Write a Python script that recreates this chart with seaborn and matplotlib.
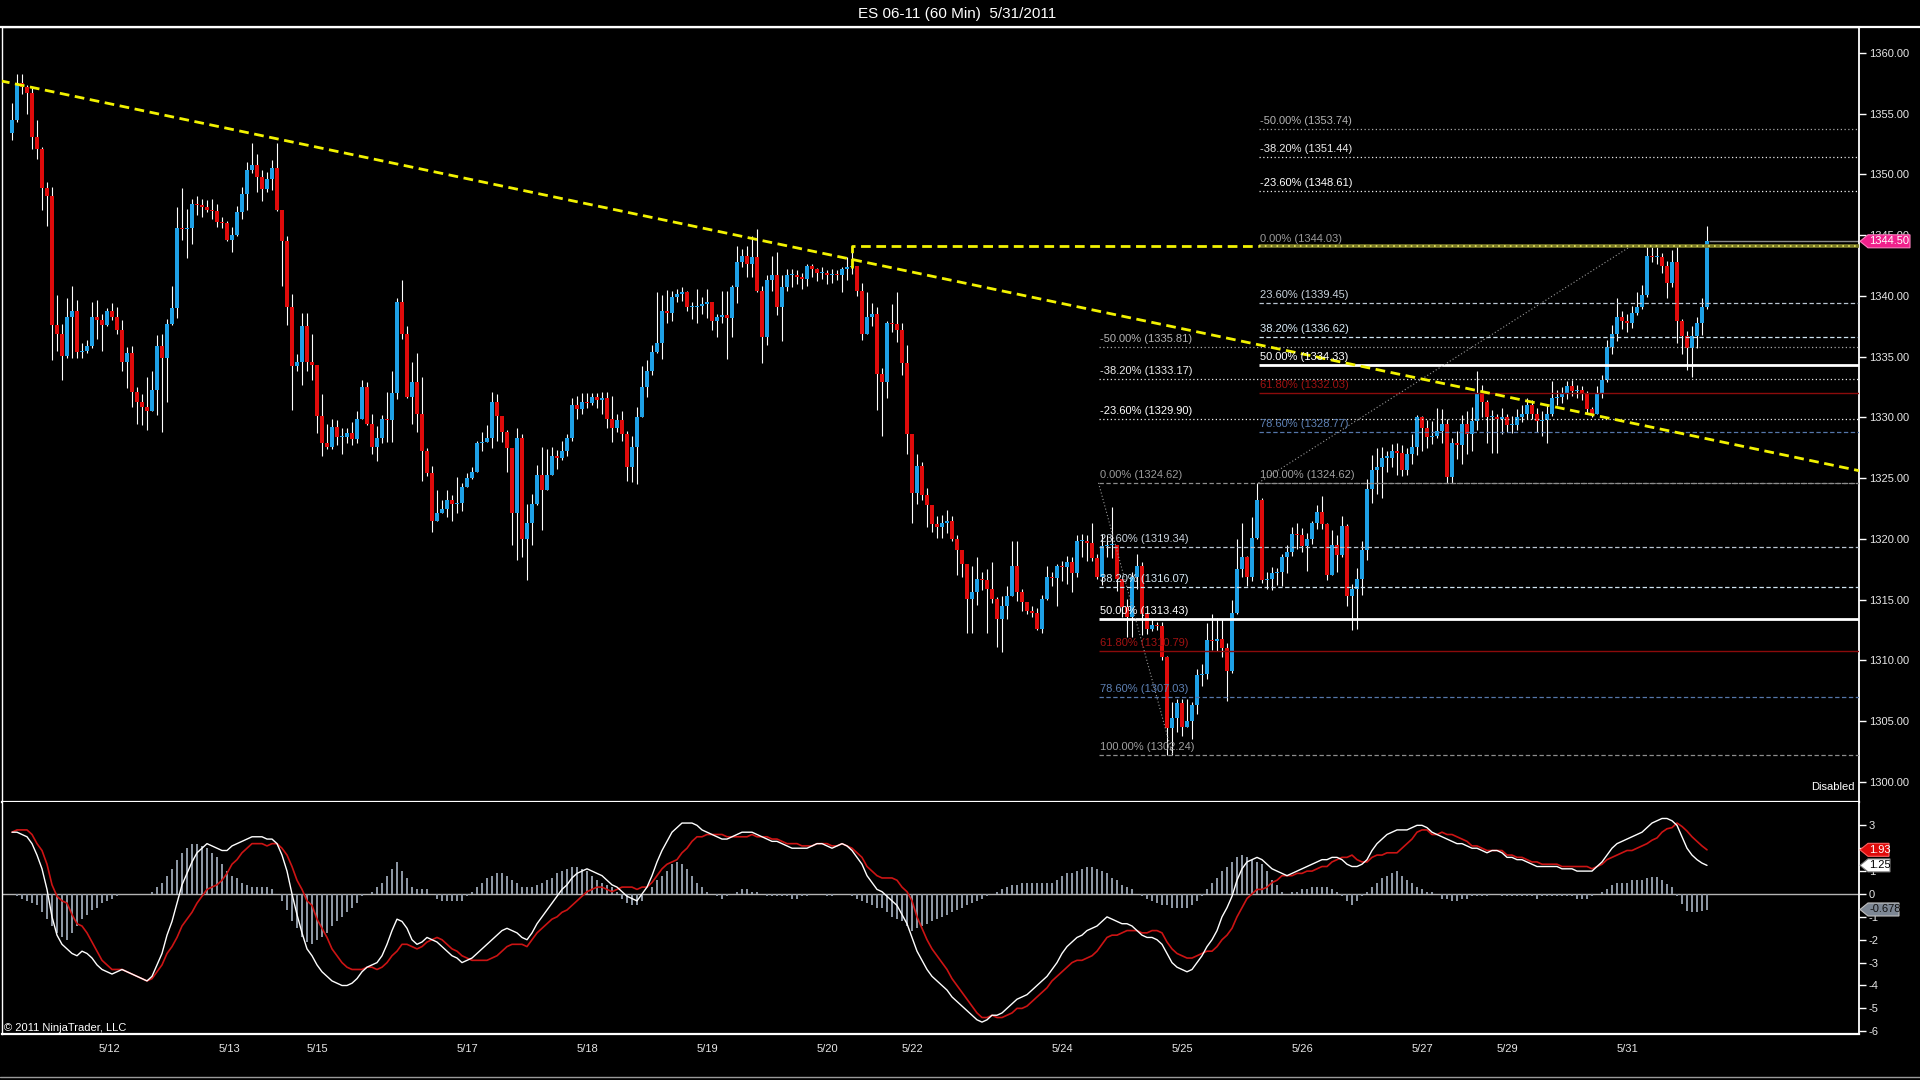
import matplotlib
matplotlib.use("Agg")
import matplotlib.pyplot as plt
import matplotlib.transforms as mtransforms
from matplotlib.lines import Line2D
from matplotlib.patches import Polygon
import numpy as np
import seaborn as sns

# ---- hourly ES 06-11 bars (bar index 0 .. 339) ----
first_open = 1353.4
closes = [
    1354.5, 1357.5, 1357.2, 1356.7, 1353.1, 1352.1, 1348.9, 1348.2, 1337.6, 1336.9,
    1335.1, 1338.3, 1338.8, 1335.4, 1335.5, 1335.9, 1338.3, 1338.0, 1337.6, 1338.8,
    1338.3, 1337.2, 1334.6, 1335.3, 1332.1, 1331.3, 1330.9, 1330.5, 1332.3, 1335.9,
    1334.9, 1337.7, 1339.0, 1345.6, 1345.5, 1345.6, 1347.6, 1347.5, 1347.3, 1347.1,
    1347.0, 1346.1, 1346.0, 1344.6, 1345.0, 1346.9, 1348.4, 1350.4, 1350.8, 1349.8,
    1348.8, 1349.6, 1350.5, 1347.1, 1344.5, 1339.1, 1334.2, 1334.6, 1337.5, 1334.6,
    1334.3, 1330.1, 1327.9, 1327.6, 1329.2, 1328.4, 1328.4, 1328.7, 1328.2, 1329.9,
    1332.5, 1329.5, 1327.6, 1328.3, 1329.9, 1329.8, 1332.0, 1339.5, 1336.9, 1331.7,
    1332.9, 1330.3, 1327.2, 1325.4, 1321.5, 1322.1, 1322.5, 1323.2, 1322.9, 1323.0,
    1324.3, 1325.0, 1325.5, 1327.9, 1328.0, 1328.3, 1331.3, 1330.1, 1328.8, 1327.5,
    1322.1, 1328.3, 1320.0, 1321.3, 1322.9, 1325.3, 1324.0, 1325.3, 1326.8, 1326.7,
    1327.2, 1328.3, 1331.0, 1330.7, 1331.3, 1331.2, 1331.7, 1331.4, 1331.6, 1329.9,
    1329.1, 1329.8, 1328.6, 1325.9, 1327.6, 1330.0, 1332.5, 1333.8, 1335.4, 1336.1,
    1338.8, 1338.6, 1339.9, 1340.2, 1340.3, 1339.1, 1339.1, 1339.2, 1339.3, 1339.5,
    1337.9, 1338.3, 1338.4, 1338.2, 1340.7, 1342.8, 1343.3, 1342.6, 1343.2, 1340.4,
    1336.6, 1341.3, 1341.7, 1339.1, 1340.7, 1341.7, 1341.7, 1341.6, 1341.4, 1342.5,
    1342.2, 1341.9, 1341.9, 1341.7, 1341.8, 1341.7, 1342.2, 1342.4, 1342.5, 1340.4,
    1336.9, 1338.3, 1338.5, 1333.6, 1332.9, 1337.8, 1337.7, 1337.2, 1334.5, 1328.6,
    1323.8, 1326.0, 1323.6, 1322.8, 1321.2, 1321.0, 1321.3, 1321.5, 1320.0, 1319.1,
    1317.9, 1315.1, 1315.6, 1316.7, 1316.6, 1315.9, 1315.1, 1313.4, 1314.5, 1315.3,
    1317.8, 1315.6, 1314.8, 1314.1, 1313.9, 1312.6, 1315.1, 1316.9, 1316.8, 1317.8,
    1317.7, 1318.1, 1317.2, 1319.8, 1319.8, 1319.7, 1318.4, 1316.9, 1319.4, 1319.5,
    1319.5, 1316.7, 1314.4, 1313.6, 1316.9, 1317.8, 1313.8, 1312.6, 1312.9, 1312.8,
    1310.3, 1304.4, 1305.3, 1306.5, 1304.5, 1305.0, 1306.3, 1308.8, 1308.9, 1311.7,
    1311.6, 1311.8, 1311.0, 1309.1, 1313.9, 1317.5, 1318.5, 1316.9, 1320.1, 1323.2,
    1316.6, 1316.7, 1317.2, 1317.3, 1318.5, 1318.9, 1320.4, 1320.3, 1319.4, 1320.0,
    1321.3, 1322.2, 1321.2, 1317.0, 1319.5, 1318.7, 1321.1, 1315.3, 1315.9, 1316.7,
    1319.1, 1324.1, 1325.7, 1325.9, 1326.7, 1326.7, 1327.2, 1327.1, 1325.7, 1327.0,
    1327.6, 1330.0, 1329.1, 1328.4, 1328.5, 1328.9, 1329.5, 1325.1, 1327.9, 1327.7,
    1329.5, 1328.6, 1329.7, 1332.0, 1331.3, 1330.0, 1330.0, 1329.9, 1330.0, 1329.4,
    1329.4, 1330.0, 1330.3, 1331.0, 1330.3, 1329.7, 1329.8, 1330.3, 1331.6, 1331.7,
    1331.9, 1332.6, 1332.2, 1332.3, 1332.0, 1330.7, 1330.3, 1332.0, 1333.1, 1335.8,
    1336.9, 1338.3, 1337.9, 1337.8, 1338.6, 1339.1, 1340.1, 1343.3, 1343.2, 1343.2,
    1342.5, 1341.1, 1342.8, 1337.9, 1336.7, 1335.7, 1336.7, 1337.8, 1339.1, 1344.5,
]
highs = [
    1355.9, 1358.3, 1358.3, 1357.4, 1357.1, 1354.5, 1352.3, 1349.4, 1349.0, 1340.1,
    1337.7, 1339.8, 1340.8, 1339.7, 1336.1, 1336.4, 1339.5, 1339.7, 1338.5, 1339.0,
    1339.4, 1339.1, 1338.0, 1335.8, 1335.9, 1332.5, 1331.9, 1333.3, 1333.8, 1336.8,
    1336.9, 1338.1, 1340.8, 1347.3, 1348.9, 1347.2, 1348.0, 1348.2, 1348.0, 1347.9,
    1348.0, 1347.6, 1346.5, 1346.2, 1345.7, 1347.4, 1349.0, 1351.0, 1352.6, 1351.7,
    1350.4, 1350.2, 1351.2, 1352.6, 1346.8, 1344.9, 1340.2, 1335.2, 1338.6, 1338.6,
    1336.9, 1332.2, 1331.9, 1329.5, 1329.9, 1329.8, 1329.1, 1329.1, 1329.6, 1330.5,
    1333.1, 1332.9, 1330.3, 1329.3, 1330.2, 1332.1, 1333.8, 1339.8, 1341.3, 1337.5,
    1334.6, 1335.3, 1333.3, 1327.5, 1326.0, 1324.0, 1323.2, 1324.0, 1323.6, 1325.1,
    1324.6, 1325.4, 1325.9, 1328.1, 1328.8, 1329.4, 1332.1, 1331.9, 1330.0, 1329.0,
    1327.2, 1329.1, 1328.6, 1322.9, 1323.7, 1326.1, 1327.6, 1327.4, 1327.6, 1327.3,
    1328.1, 1328.6, 1331.6, 1331.8, 1332.0, 1332.0, 1332.0, 1332.0, 1332.1, 1332.1,
    1331.8, 1330.3, 1330.5, 1328.9, 1328.5, 1330.9, 1334.2, 1334.7, 1336.0, 1340.3,
    1340.1, 1340.5, 1340.4, 1340.6, 1340.7, 1340.4, 1339.5, 1340.6, 1339.9, 1340.6,
    1339.3, 1338.5, 1340.4, 1340.4, 1340.9, 1344.1, 1343.9, 1344.1, 1344.9, 1345.5,
    1340.8, 1341.7, 1343.3, 1343.6, 1341.7, 1342.2, 1342.2, 1342.1, 1341.9, 1342.6,
    1342.6, 1342.3, 1342.4, 1342.1, 1342.2, 1342.1, 1342.4, 1343.2, 1344.0, 1342.5,
    1341.1, 1340.3, 1339.4, 1339.1, 1334.1, 1337.9, 1339.3, 1340.3, 1337.8, 1336.0,
    1327.0, 1327.0, 1326.3, 1324.2, 1322.7, 1321.9, 1322.0, 1322.4, 1321.9, 1320.3,
    1319.1, 1317.9, 1317.8, 1318.5, 1317.3, 1317.5, 1318.1, 1315.2, 1315.3, 1316.1,
    1319.8, 1319.8, 1315.9, 1314.8, 1314.5, 1314.3, 1315.4, 1317.8, 1317.3, 1317.9,
    1318.2, 1318.6, 1318.5, 1320.3, 1320.4, 1320.3, 1321.3, 1318.8, 1320.4, 1320.3,
    1322.6, 1318.9, 1316.3, 1315.1, 1317.3, 1318.8, 1318.1, 1313.5, 1313.4, 1313.2,
    1313.2, 1310.4, 1306.6, 1306.8, 1306.8, 1306.8, 1306.6, 1309.3, 1309.7, 1313.1,
    1313.8, 1313.5, 1313.4, 1311.4, 1315.0, 1320.0, 1321.3, 1318.6, 1321.8, 1324.6,
    1323.4, 1317.3, 1317.7, 1317.6, 1318.8, 1319.5, 1321.0, 1321.3, 1320.9, 1320.5,
    1321.5, 1322.8, 1323.5, 1321.3, 1320.7, 1320.3, 1321.9, 1321.2, 1316.3, 1317.6,
    1319.8, 1324.9, 1326.9, 1327.5, 1327.6, 1327.2, 1327.8, 1327.9, 1327.7, 1327.5,
    1328.6, 1330.2, 1330.1, 1329.8, 1329.7, 1330.8, 1330.7, 1329.9, 1328.3, 1328.9,
    1330.2, 1330.5, 1330.9, 1333.8, 1332.7, 1331.4, 1330.6, 1330.3, 1330.8, 1330.3,
    1330.1, 1330.7, 1331.0, 1331.6, 1331.4, 1330.8, 1330.5, 1331.0, 1333.0, 1332.3,
    1332.5, 1333.0, 1333.1, 1332.7, 1332.6, 1332.2, 1330.9, 1332.6, 1333.5, 1336.4,
    1337.6, 1339.8, 1338.8, 1338.5, 1339.2, 1340.3, 1340.9, 1344.1, 1344.0, 1344.0,
    1343.5, 1342.9, 1343.8, 1344.1, 1338.1, 1337.1, 1337.5, 1338.3, 1339.8, 1345.8,
]
lows = [
    1352.8, 1354.3, 1356.6, 1355.0, 1352.1, 1351.3, 1347.1, 1345.8, 1334.7, 1335.5,
    1333.1, 1334.9, 1334.9, 1334.9, 1334.9, 1335.3, 1335.7, 1336.5, 1335.5, 1337.5,
    1338.0, 1336.9, 1333.8, 1332.4, 1330.9, 1329.5, 1329.4, 1329.0, 1331.0, 1330.2,
    1328.8, 1331.3, 1337.6, 1338.2, 1344.6, 1343.1, 1344.3, 1346.7, 1346.5, 1346.9,
    1346.3, 1345.7, 1345.6, 1344.5, 1343.6, 1344.9, 1346.3, 1347.1, 1350.1, 1348.6,
    1347.8, 1348.6, 1348.7, 1347.0, 1340.8, 1337.6, 1330.6, 1333.8, 1332.7, 1333.8,
    1333.1, 1328.7, 1326.8, 1327.4, 1327.4, 1327.7, 1327.0, 1327.9, 1327.7, 1327.9,
    1329.9, 1329.4, 1327.0, 1326.4, 1327.9, 1328.0, 1328.0, 1331.5, 1336.5, 1331.6,
    1329.5, 1328.8, 1324.8, 1325.2, 1320.6, 1321.9, 1322.2, 1321.8, 1321.5, 1322.1,
    1322.3, 1324.4, 1324.9, 1325.5, 1327.2, 1328.0, 1327.5, 1328.1, 1328.0, 1325.5,
    1319.5, 1318.3, 1318.5, 1316.6, 1319.5, 1322.8, 1320.7, 1324.3, 1325.3, 1325.8,
    1326.5, 1326.8, 1328.1, 1329.9, 1330.3, 1330.8, 1331.0, 1330.8, 1330.3, 1329.1,
    1328.0, 1328.8, 1328.1, 1324.8, 1324.7, 1324.5, 1330.0, 1331.7, 1333.5, 1335.3,
    1334.8, 1337.8, 1337.9, 1339.5, 1339.6, 1338.8, 1338.1, 1337.8, 1338.5, 1338.2,
    1337.2, 1336.6, 1337.8, 1334.8, 1336.6, 1339.4, 1342.4, 1341.6, 1341.6, 1340.3,
    1334.5, 1336.0, 1340.4, 1338.4, 1336.3, 1340.4, 1340.7, 1341.0, 1340.6, 1340.8,
    1341.6, 1341.2, 1341.4, 1341.0, 1341.1, 1341.3, 1340.3, 1341.3, 1341.8, 1340.0,
    1336.4, 1336.9, 1337.5, 1330.6, 1328.5, 1331.6, 1337.0, 1336.2, 1333.5, 1327.0,
    1321.3, 1322.9, 1323.2, 1321.0, 1320.6, 1320.1, 1320.1, 1320.5, 1319.8, 1317.0,
    1316.9, 1312.3, 1312.3, 1314.6, 1315.8, 1312.3, 1314.7, 1311.1, 1310.7, 1313.4,
    1315.3, 1314.9, 1314.1, 1313.8, 1313.6, 1312.5, 1312.3, 1315.0, 1316.1, 1314.5,
    1316.5, 1316.3, 1315.6, 1316.9, 1318.5, 1318.2, 1318.2, 1316.7, 1316.2, 1318.5,
    1318.4, 1315.7, 1313.6, 1311.9, 1311.9, 1315.9, 1312.1, 1312.2, 1312.4, 1312.5,
    1310.0, 1302.2, 1302.2, 1304.1, 1303.8, 1304.5, 1303.5, 1305.6, 1307.9, 1308.5,
    1310.9, 1310.8, 1310.3, 1306.7, 1309.0, 1313.8, 1316.9, 1316.1, 1316.5, 1320.0,
    1316.4, 1315.9, 1315.8, 1316.2, 1316.1, 1317.2, 1318.6, 1319.2, 1318.9, 1317.4,
    1319.6, 1320.8, 1320.8, 1316.6, 1318.1, 1317.3, 1318.5, 1314.5, 1312.5, 1312.6,
    1315.4, 1318.3, 1323.0, 1323.7, 1323.4, 1325.5, 1325.9, 1325.3, 1325.2, 1325.3,
    1326.2, 1326.9, 1327.2, 1327.5, 1327.8, 1328.3, 1327.9, 1324.6, 1324.6, 1326.6,
    1326.2, 1327.0, 1327.2, 1329.0, 1330.0, 1327.9, 1327.1, 1327.1, 1328.6, 1328.8,
    1328.7, 1329.0, 1329.6, 1329.9, 1329.9, 1328.8, 1328.5, 1327.9, 1330.1, 1331.0,
    1331.2, 1331.5, 1331.8, 1331.6, 1331.4, 1330.3, 1330.0, 1330.8, 1331.6, 1332.9,
    1335.2, 1336.3, 1337.3, 1337.0, 1337.4, 1338.4, 1338.9, 1339.9, 1342.8, 1342.6,
    1341.9, 1339.8, 1340.7, 1336.1, 1335.2, 1333.9, 1333.3, 1335.7, 1336.8, 1338.9,
]

# MACD line (white) and MACD-Avg difference (histogram), read per bar
macd = [
    2.7, 2.7, 2.6, 2.5, 2.2, 1.7, 1.1, 0.2, -1.0, -1.8,
    -2.2, -2.4, -2.6, -2.7, -2.5, -2.6, -2.8, -3.1, -3.3, -3.4,
    -3.5, -3.4, -3.3, -3.4, -3.5, -3.6, -3.7, -3.8, -3.6, -3.1,
    -2.6, -1.8, -1.2, -0.4, 0.4, 0.9, 1.4, 1.8, 2.0, 2.2,
    2.1, 2.0, 1.9, 1.9, 2.1, 2.2, 2.3, 2.4, 2.5, 2.5,
    2.5, 2.4, 2.4, 2.2, 1.7, 1.0, 0.0, -0.9, -1.7, -2.4,
    -2.7, -3.1, -3.4, -3.6, -3.8, -3.9, -4.0, -4.0, -3.9, -3.7,
    -3.4, -3.2, -3.1, -3.0, -2.7, -2.2, -1.6, -1.1, -1.2, -1.5,
    -2.0, -2.2, -2.1, -1.9, -2.0, -2.1, -2.3, -2.5, -2.7, -2.8,
    -3.0, -2.9, -2.8, -2.6, -2.4, -2.2, -2.0, -1.8, -1.6, -1.5,
    -1.6, -1.7, -1.9, -2.0, -1.7, -1.3, -1.0, -0.7, -0.4, -0.1,
    0.2, 0.4, 0.7, 0.9, 1.0, 1.1, 1.0, 0.9, 0.8, 0.6,
    0.4, 0.3, 0.1, -0.1, -0.2, -0.3, 0.0, 0.3, 0.8, 1.4,
    1.9, 2.3, 2.7, 2.9, 3.1, 3.1, 3.1, 3.0, 2.8, 2.7,
    2.6, 2.5, 2.4, 2.4, 2.5, 2.6, 2.7, 2.7, 2.7, 2.6,
    2.5, 2.4, 2.3, 2.3, 2.2, 2.1, 2.0, 2.0, 2.0, 2.0,
    2.1, 2.2, 2.2, 2.1, 2.0, 2.1, 2.2, 2.1, 1.9, 1.6,
    1.3, 0.8, 0.5, 0.2, 0.1, -0.1, -0.3, -0.5, -0.9, -1.3,
    -1.9, -2.5, -2.9, -3.3, -3.6, -3.8, -4.0, -4.2, -4.5, -4.7,
    -4.9, -5.1, -5.3, -5.5, -5.6, -5.5, -5.3, -5.3, -5.2, -5.0,
    -4.8, -4.6, -4.5, -4.4, -4.2, -4.0, -3.8, -3.6, -3.3, -3.0,
    -2.6, -2.3, -2.1, -1.9, -1.8, -1.6, -1.5, -1.4, -1.2, -1.0,
    -1.1, -1.2, -1.3, -1.3, -1.4, -1.6, -1.8, -1.9, -1.9, -2.0,
    -2.2, -2.6, -3.0, -3.2, -3.3, -3.4, -3.3, -3.0, -2.7, -2.3,
    -2.0, -1.6, -1.0, -0.6, -0.1, 0.6, 1.1, 1.4, 1.5, 1.6,
    1.5, 1.3, 1.1, 1.0, 0.9, 0.8, 0.9, 1.0, 1.1, 1.2,
    1.3, 1.4, 1.5, 1.5, 1.6, 1.6, 1.5, 1.3, 1.2, 1.2,
    1.3, 1.5, 1.9, 2.2, 2.4, 2.6, 2.7, 2.8, 2.8, 2.8,
    2.9, 3.0, 3.0, 2.9, 2.7, 2.6, 2.5, 2.4, 2.3, 2.2,
    2.2, 2.1, 2.0, 2.0, 1.9, 1.8, 1.9, 1.9, 1.8, 1.6,
    1.6, 1.5, 1.5, 1.4, 1.3, 1.2, 1.2, 1.2, 1.2, 1.2,
    1.1, 1.1, 1.1, 1.0, 1.0, 1.0, 1.0, 1.2, 1.4, 1.7,
    2.0, 2.2, 2.3, 2.4, 2.5, 2.6, 2.7, 2.9, 3.1, 3.2,
    3.3, 3.3, 3.2, 3.0, 2.5, 2.0, 1.7, 1.5, 1.35, 1.25,
]
macd_diff = [
    0.0, -0.1, -0.2, -0.3, -0.4, -0.5, -0.8, -1.1, -1.4, -1.7,
    -1.9, -2.0, -1.7, -1.4, -1.1, -0.9, -0.7, -0.6, -0.4, -0.3,
    -0.2, -0.1, 0.0, 0.0, 0.0, 0.0, 0.0, 0.0, 0.1, 0.3,
    0.5, 0.8, 1.1, 1.5, 1.8, 2.0, 2.2, 2.2, 2.1, 2.0,
    1.8, 1.6, 1.3, 1.0, 0.8, 0.7, 0.5, 0.4, 0.3, 0.3,
    0.3, 0.3, 0.2, 0.0, -0.3, -0.7, -1.2, -1.5, -1.9, -2.1,
    -2.2, -2.0, -1.9, -1.7, -1.4, -1.2, -1.0, -0.8, -0.6, -0.4,
    -0.1, 0.0, 0.1, 0.3, 0.5, 0.8, 1.1, 1.4, 1.0, 0.7,
    0.3, 0.2, 0.2, 0.2, 0.0, -0.2, -0.3, -0.3, -0.3, -0.3,
    -0.3, -0.1, 0.1, 0.3, 0.5, 0.7, 0.8, 0.9, 0.9, 0.8,
    0.6, 0.5, 0.3, 0.3, 0.3, 0.4, 0.5, 0.6, 0.7, 0.9,
    1.0, 1.1, 1.2, 1.2, 1.1, 1.0, 0.8, 0.6, 0.5, 0.4,
    0.3, 0.1, -0.2, -0.4, -0.5, -0.5, -0.3, 0.0, 0.3, 0.6,
    0.8, 1.0, 1.3, 1.4, 1.3, 1.1, 0.8, 0.5, 0.3, 0.1,
    0.0, -0.1, -0.2, -0.1, 0.0, 0.1, 0.2, 0.2, 0.1, 0.1,
    0.0, -0.1, -0.1, -0.1, -0.1, -0.1, -0.2, -0.2, -0.1, -0.1,
    0.0, 0.0, 0.0, -0.1, -0.1, 0.0, 0.0, 0.0, -0.1, -0.2,
    -0.3, -0.4, -0.5, -0.6, -0.6, -0.8, -1.0, -1.1, -1.2, -1.4,
    -1.6, -1.5, -1.4, -1.3, -1.2, -1.1, -1.0, -0.9, -0.8, -0.7,
    -0.6, -0.5, -0.4, -0.3, -0.2, -0.1, 0.0, 0.1, 0.2, 0.3,
    0.4, 0.4, 0.5, 0.5, 0.5, 0.5, 0.5, 0.5, 0.5, 0.6,
    0.8, 0.9, 0.9, 1.0, 1.1, 1.2, 1.2, 1.1, 1.0, 0.9,
    0.7, 0.6, 0.4, 0.3, 0.2, 0.0, -0.1, -0.2, -0.3, -0.4,
    -0.5, -0.5, -0.6, -0.6, -0.6, -0.6, -0.5, -0.3, -0.1, 0.2,
    0.5, 0.7, 1.0, 1.2, 1.4, 1.6, 1.7, 1.6, 1.5, 1.4,
    1.3, 1.0, 0.6, 0.4, 0.1, 0.0, 0.1, 0.1, 0.2, 0.2,
    0.3, 0.3, 0.3, 0.3, 0.2, 0.1, -0.1, -0.3, -0.5, -0.3,
    -0.1, 0.1, 0.3, 0.5, 0.7, 0.8, 0.9, 1.0, 0.8, 0.6,
    0.5, 0.3, 0.2, 0.1, 0.1, 0.0, -0.2, -0.2, -0.3, -0.3,
    -0.2, -0.2, -0.1, -0.1, -0.1, -0.1, 0.0, 0.0, -0.1, -0.1,
    -0.1, -0.1, -0.1, -0.1, -0.1, -0.2, -0.1, -0.1, -0.1, -0.1,
    -0.1, -0.1, -0.1, -0.2, -0.2, -0.2, -0.1, 0.0, 0.1, 0.2,
    0.4, 0.5, 0.5, 0.5, 0.6, 0.6, 0.6, 0.7, 0.75, 0.75,
    0.6, 0.45, 0.3, -0.1, -0.45, -0.75, -0.8, -0.8, -0.75, -0.68,
]

date_labels = ["5/12", "5/13", "5/15", "5/17", "5/18", "5/19", "5/20",
               "5/22", "5/24", "5/25", "5/26", "5/27", "5/29", "5/31"]
date_bars = [19.5, 43.5, 61, 91, 115, 139, 163, 180, 210, 234, 258, 282, 299, 323]

price_ticks = list(range(1300, 1361, 5))
macd_ticks = list(range(-6, 4))

# drawing objects placed on the chart
trend_bars = [-2.4, 369.4]
trend_prices = [1357.72, 1325.62]
resist_bar, resist_low, resist_level = 168, 1342.3, 1344.1

fib_pcts = ["-50.00%", "-38.20%", "-23.60%", "0.00%", "23.60%", "38.20%",
            "50.00%", "61.80%", "78.60%", "100.00%"]
fib_left = [1335.81, 1333.17, 1329.90, 1324.62, 1319.34, 1316.07,
            1313.43, 1310.79, 1307.03, 1302.24]
fib_right = [1353.74, 1351.44, 1348.61, 1344.03, 1339.45, 1336.62,
             1334.33, 1332.03, 1328.77, 1324.62]
fib_left_start, fib_left_end = 217.3, 232.1
fib_right_start, fib_right_end = 249.3, 323.5

last_price = 1344.50
last_macd, last_avg, last_diff = 1.25, 1.93, -0.678

# ---- styling ----
sns.set_theme(style="dark", rc={"axes.facecolor": "black", "figure.facecolor": "black",
                                "axes.edgecolor": "white", "text.color": "white",
                                "xtick.color": "white", "ytick.color": "white",
                                "axes.grid": False})
plt.rcParams["font.family"] = ["Liberation Sans", "DejaVu Sans"]

W, H = 1920, 1080
fig = plt.figure(figsize=(19.2, 10.8), dpi=100)
ax = fig.add_axes([2 / W, 1 - 802 / H, 1857 / W, 775 / H])
axm = fig.add_axes([2 / W, 1 - 1034 / H, 1857 / W, 232 / H], sharex=ax)

c = np.array(closes)
o = np.array([first_open] + closes[:-1])
hi = np.array(highs)
lo = np.array(lows)
idx = np.arange(len(c))

blue, red = "#1ea0e6", "#e00b0b"
body_lo = np.minimum(o, c)
body_h = np.maximum(np.abs(c - o), 0.09)
ax.vlines(idx, np.minimum(lo, body_lo), np.maximum(hi, body_lo + body_h),
          color="white", lw=0.8, zorder=3)
ax.bar(idx, body_h, bottom=body_lo, width=0.62,
       color=np.where(c >= o, blue, red), linewidth=0, zorder=4)
ax.hlines(last_price, idx[-1] + 0.4, 369.4, color="#8a8a8a", lw=1, zorder=2)

# trend line and resistance ray
ax.plot(trend_bars, trend_prices, color="#f2f200", lw=2.0,
        linestyle=(0, (3.5, 2)), zorder=6)
ax.plot([resist_bar, resist_bar, fib_right_start], [resist_low, resist_level, resist_level],
        color="#f2f200", lw=2.0, linestyle=(0, (3.5, 2)), zorder=6)
ax.hlines(resist_level, fib_right_start, 369.4, color="#7d7d28", lw=2.6, zorder=5)
ax.hlines(resist_level, fib_right_start, 369.4, color="#eaea60", lw=1.2,
          linestyle=(0, (1, 2.5)), zorder=6)

# fibonacci retracements
dash = (0, (3.5, 2))
dot = (0, (1, 2))
fib_style = [("#a8a8a8", dot, 0.9, "#b4b4b4"), ("#e8e8e8", dot, 0.9, "#ececec"),
             ("#f0f0f0", dot, 0.9, "#ffffff"), ("#8c8c8c", dash, 0.9, "#9a9a9a"),
             ("#b8c4d0", dash, 0.9, "#c8d2dc"), ("#cfe3f0", dash, 0.9, "#d8ecf8"),
             ("#ffffff", "-", 2.0, "#ffffff"), ("#8b0b0b", "-", 1.0, "#a01212"),
             ("#5577aa", dash, 0.9, "#5d80b4"), ("#8c8c8c", dash, 0.9, "#a0a0a0")]
for levels, start in ((fib_left, fib_left_start), (fib_right, fib_right_start)):
    for pct, lev, (lc, ls, lw, tc) in zip(fib_pcts, levels, fib_style):
        if start == fib_right_start and pct == "0.00%":
            pass
        else:
            ax.hlines(lev, start, 369.4, color=lc, lw=lw, linestyle=ls, zorder=5)
        ax.text(start + 0.3, lev + 0.25, f"{pct} ({lev:.2f})", color=tc,
                fontsize=8, ha="left", va="bottom", zorder=7)
ax.plot([fib_left_start, fib_left_end], [fib_left[3], fib_left[-1]],
        color="#9a9a9a", lw=0.8, linestyle=dot, zorder=5)
ax.plot([fib_right_start, fib_right_end], [fib_right[-1], fib_right[3]],
        color="#9a9a9a", lw=0.8, linestyle=dot, zorder=5)

# ---- MACD pane ----
signal = np.array(macd) - np.array(macd_diff)
axm.axhline(0, color="#b4b4b4", lw=1, zorder=1)
axm.bar(idx, macd_diff, width=0.42, color="#8c96a3", linewidth=0, zorder=2)
sns.lineplot(x=idx, y=macd, ax=axm, color="white", linewidth=1.0, zorder=4)
sns.lineplot(x=idx, y=signal, ax=axm, color="#cc1414", linewidth=1.2, zorder=3)
axm.set_ylabel("")

# ---- axes ----
ax.set_xlim(-2.0, 369.4)
ax.set_ylim(1298.35, 1362.14)
axm.set_ylim(-6.12, 4.02)

ax.yaxis.tick_right()
ax.set_yticks(price_ticks)
ax.set_yticklabels([f"{v:.2f}" for v in price_ticks])
ax.tick_params(axis="y", colors="white", labelcolor="#e6e6e6", length=5, width=1,
               labelsize=8, pad=2)
ax.tick_params(axis="x", bottom=False, labelbottom=False)

axm.yaxis.tick_right()
axm.set_yticks(macd_ticks)
axm.set_yticklabels([str(v) for v in macd_ticks])
axm.tick_params(axis="y", colors="white", labelcolor="#e6e6e6", length=5, width=1,
                labelsize=8, pad=2)
axm.set_xticks(date_bars)
axm.set_xticklabels(date_labels)
axm.tick_params(axis="x", colors="white", labelcolor="#e6e6e6", length=4, width=1,
                labelsize=8, pad=3)

for a in (ax, axm):
    for s in a.spines.values():
        s.set_color("white")
        s.set_linewidth(1.0)
    a.spines["right"].set_linewidth(1.3)
ax.spines["bottom"].set_linewidth(1.6)
axm.spines["top"].set_visible(False)
axm.spines["bottom"].set_linewidth(1.6)

fig.add_artist(Line2D([0, 1], [1 - 27 / H] * 2, color="white", lw=1.6))
fig.add_artist(Line2D([0, 1], [1 - 1077 / H] * 2, color="#9a9a9a", lw=1.0))

fig.text(957 / W, 1 - 14 / H, "ES 06-11 (60 Min)  5/31/2011", ha="center", va="center",
         fontsize=11, color="white")
fig.text(1855 / W, 1 - 790 / H, "Disabled", ha="right", va="baseline",
         fontsize=8, color="white")
fig.text(4 / W, 1 - 1031 / H, "\u00a9 2011 NinjaTrader, LLC", ha="left", va="baseline",
         fontsize=8, color="white")


def value_tag(axis, y, text, face, ink, edge, right_px):
    tr = mtransforms.blended_transform_factory(fig.transFigure, axis.transData)
    y0, y1 = axis.get_ylim()
    half = 6.5 * (y1 - y0) / axis.bbox.height
    x0, x1, x2 = 1860 / W, 1868 / W, right_px / W
    pts = [(x0, y), (x1, y + half), (x2, y + half), (x2, y - half), (x1, y - half)]
    fig.add_artist(Polygon(pts, closed=True, transform=tr, facecolor=face,
                           edgecolor=edge, lw=0.8, zorder=20))
    fig.text(1869 / W, y, text, transform=tr, ha="left", va="center",
             fontsize=8, color=ink, zorder=21)


value_tag(ax, last_price, f"{last_price:.2f}", "#f0208c", "white", "#ff80c0", 1910)
value_tag(axm, last_avg, f"{last_avg:.2f}", "#e00b0b", "white", "#ff6060", 1889)
value_tag(axm, last_macd, f"{last_macd:.2f}", "white", "black", "#808080", 1890)
value_tag(axm, last_diff, f"{last_diff:.3f}", "#7d8794", "#101010", "#c0c0c0", 1899)

fig.savefig("out.png", dpi=100, facecolor="black")
